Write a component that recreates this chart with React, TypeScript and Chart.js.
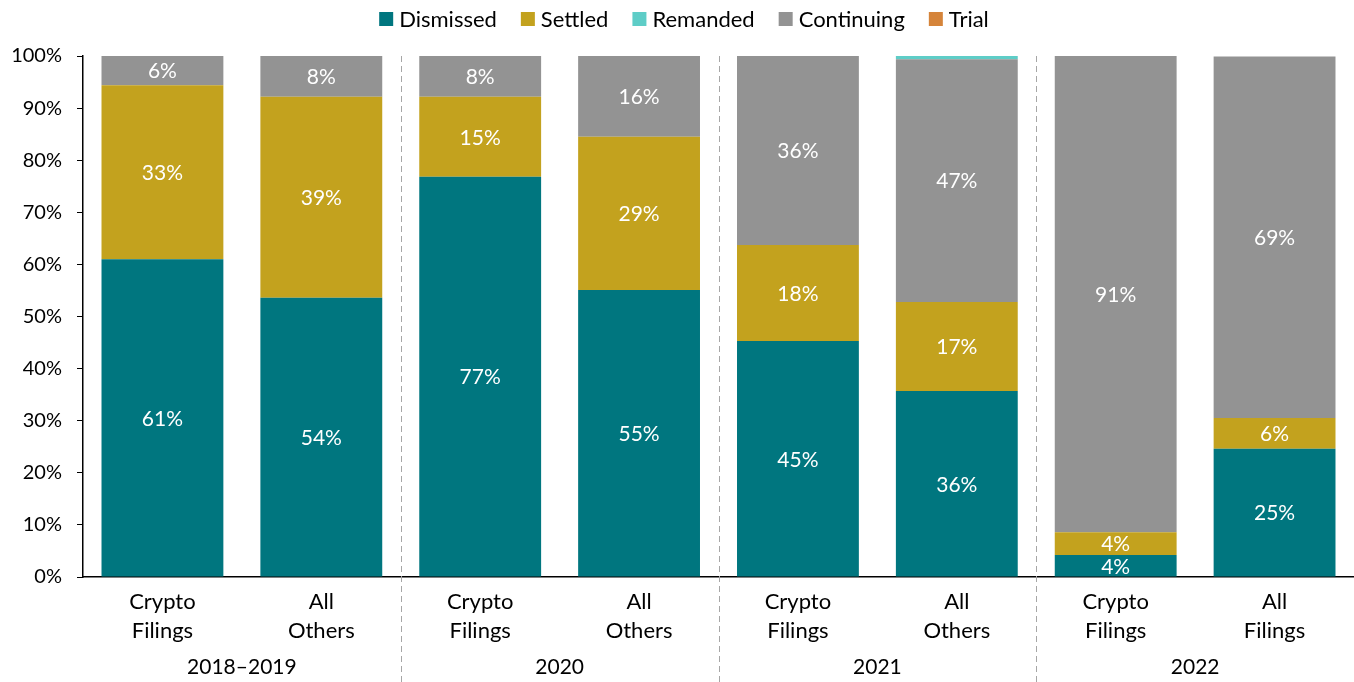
import React, { useEffect, useRef } from "react";
import { Chart, registerables } from "chart.js";

Chart.register(...registerables);

const categories = [
  ["Crypto", "Filings"],
  ["All", "Others"],
  ["Crypto", "Filings"],
  ["All", "Others"],
  ["Crypto", "Filings"],
  ["All", "Others"],
  ["Crypto", "Filings"],
  ["All", "Filings"],
];
const groups = ["2018–2019", "2020", "2021", "2022"];

const dismissed = [61.0, 53.6, 76.8, 55.1, 45.3, 35.7, 4.2, 24.6];
const settled = [33.4, 38.6, 15.4, 29.4, 18.4, 17.1, 4.4, 5.9];
const remanded = [0, 0, 0, 0, 0, 0.6, 0, 0];
const continuing = [5.6, 7.8, 7.8, 15.5, 36.3, 46.6, 91.4, 69.4];
const trial = [0, 0, 0, 0, 0, 0, 0, 0];

const yTicks = [0, 10, 20, 30, 40, 50, 60, 70, 80, 90, 100];

const FONT = "Lato, 'Open Sans', sans-serif";

const legendPlugin = {
  id: "customLegend",
  afterDraw(chart: any) {
    const ctx = chart.ctx;
    ctx.save();
    ctx.font = `22px ${FONT}`;
    ctx.textBaseline = "middle";
    ctx.textAlign = "left";
    const box = 14;
    const gapText = 6;
    const gapItem = 24;
    const items = chart.data.datasets.map((d: any) => ({
      label: d.label,
      color: d.backgroundColor,
      w: box + gapText + ctx.measureText(d.label).width,
    }));
    const total = items.reduce((s: number, it: any) => s + it.w, 0) + gapItem * (items.length - 1);
    let x = 684 - total / 2;
    const cy = 19;
    items.forEach((it: any) => {
      ctx.fillStyle = it.color;
      ctx.fillRect(x, cy - box / 2, box, box);
      ctx.fillStyle = "#000000";
      ctx.fillText(it.label, x + box + gapText, cy + 1);
      x += it.w + gapItem;
    });
    ctx.restore();
  },
};

const labelPlugin = {
  id: "segLabels",
  afterDatasetsDraw(chart: any) {
    const ctx = chart.ctx;
    ctx.save();
    ctx.font = `21px ${FONT}`;
    ctx.fillStyle = "#ffffff";
    ctx.textAlign = "center";
    ctx.textBaseline = "middle";
    chart.data.datasets.forEach((ds: any, di: number) => {
      const meta = chart.getDatasetMeta(di);
      meta.data.forEach((bar: any, i: number) => {
        const v = ds.data[i];
        if (!v || v < 2) return;
        const p = bar.getProps(["x", "y", "base"], true);
        ctx.fillText(Math.round(v) + "%", p.x, (p.y + p.base) / 2 + 1);
      });
    });
    ctx.restore();
  },
};

const groupPlugin = {
  id: "groups",
  afterDraw(chart: any) {
    const ctx = chart.ctx;
    const x = chart.scales.x;
    const area = chart.chartArea;
    ctx.save();
    ctx.strokeStyle = "#a6a6a6";
    ctx.lineWidth = 1;
    ctx.setLineDash([6, 4]);
    for (let g = 1; g < groups.length; g++) {
      const px = Math.round((x.getPixelForValue(g * 2 - 1) + x.getPixelForValue(g * 2)) / 2) + 0.5;
      ctx.beginPath();
      ctx.moveTo(px, area.top);
      ctx.lineTo(px, chart.height);
      ctx.stroke();
    }
    ctx.setLineDash([]);
    ctx.font = `21px ${FONT}`;
    ctx.fillStyle = "#000000";
    ctx.textAlign = "center";
    ctx.textBaseline = "middle";
    groups.forEach((g, gi) => {
      const cx = (x.getPixelForValue(gi * 2) + x.getPixelForValue(gi * 2 + 1)) / 2;
      ctx.fillText(g, cx, 667);
    });
    ctx.restore();
  },
};

export default function App() {
  const ref = useRef<HTMLCanvasElement | null>(null);
  useEffect(() => {
    if (!ref.current) return;
    const chart = new Chart(ref.current, {
      type: "bar",
      data: {
        labels: categories as any,
        datasets: [
          { label: "Dismissed", data: dismissed, backgroundColor: "#00767f", order: 0 },
          { label: "Settled", data: settled, backgroundColor: "#c3a21e", order: 1 },
          { label: "Remanded", data: remanded, backgroundColor: "#5ecdc7", order: 3 },
          { label: "Continuing", data: continuing, backgroundColor: "#939393", order: 2 },
          { label: "Trial", data: trial, backgroundColor: "#d5843a", order: 4 },
        ],
      },
      options: {
        animation: false,
        responsive: true,
        maintainAspectRatio: false,
        datasets: {
          bar: { barPercentage: 1, categoryPercentage: 0.767, borderWidth: 0 },
        },
        layout: { padding: { top: 56, left: 0, right: 0, bottom: 0 } },
        plugins: {
          legend: { display: false },
          tooltip: { enabled: false },
        },
        scales: {
          x: {
            stacked: true,
            grid: { display: false, drawTicks: false },
            border: { display: true, color: "#000000", width: 1.5 },
            ticks: {
              color: "#000000",
              padding: 10,
              maxRotation: 0,
              autoSkip: false,
              font: { family: FONT, size: 22, lineHeight: 1.32 },
            },
            afterFit(scale: any) {
              scale.height = 105;
            },
          },
          y: {
            stacked: true,
            min: 0,
            max: 100,
            afterBuildTicks(scale: any) {
              scale.ticks = yTicks.map((v) => ({ value: v }));
            },
            grid: { display: true, drawOnChartArea: false, drawTicks: true, tickLength: 6, color: "#000000" },
            border: { display: true, color: "#000000", width: 1.5 },
            ticks: {
              color: "#000000",
              padding: 15,
              font: { family: FONT, size: 20 },
              callback: (v: any) => v + "%",
            },
            afterFit(scale: any) {
              scale.width = 83;
            },
          },
        },
      },
      plugins: [legendPlugin, labelPlugin, groupPlugin],
    });
    return () => chart.destroy();
  }, []);
  return (
    <div style={{ position: "fixed", left: 0, top: 0, width: 1354, height: 682, background: "#fff" }}>
      <canvas ref={ref} />
    </div>
  );
}
